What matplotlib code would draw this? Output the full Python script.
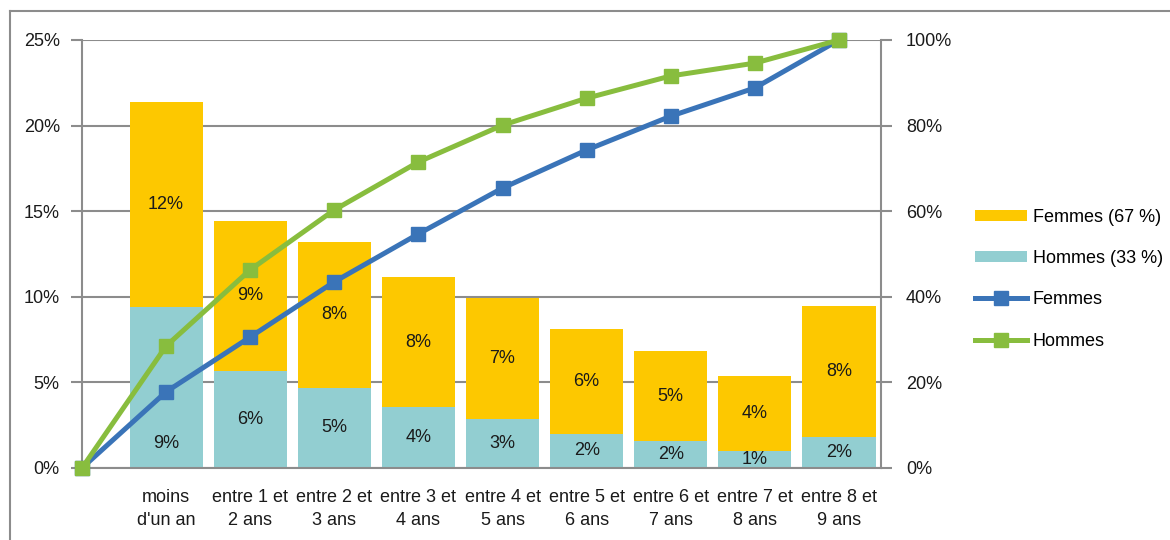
import matplotlib.pyplot as plt
from matplotlib.lines import Line2D

plt.rcParams['font.family'] = ['Liberation Sans Narrow', 'Liberation Sans', 'DejaVu Sans']

# data
categories = ['', 'moins\nd\'un an', 'entre 1 et\n2 ans', 'entre 2 et\n3 ans', 'entre 3 et\n4 ans',
              'entre 4 et\n5 ans', 'entre 5 et\n6 ans', 'entre 6 et\n7 ans', 'entre 7 et\n8 ans',
              'entre 8 et\n9 ans']
hommes = [9.4, 5.65, 4.7, 3.55, 2.85, 2.0, 1.55, 1.0, 1.8]
femmes = [12.0, 8.8, 8.5, 7.6, 7.1, 6.1, 5.3, 4.35, 7.65]
hommes_lbl = ['9%', '6%', '5%', '4%', '3%', '2%', '2%', '1%', '2%']
femmes_lbl = ['12%', '9%', '8%', '8%', '7%', '6%', '5%', '4%', '8%']
cum_femmes = [0, 17.8, 30.6, 43.5, 54.7, 65.4, 74.3, 82.2, 88.8, 100]
cum_hommes = [0, 28.5, 46.3, 60.3, 71.5, 80.1, 86.4, 91.6, 94.6, 100]

c_fem = '#FDC800'
c_hom = '#92CED1'
c_blue = '#3A74B8'
c_green = '#88BD3E'
grey = '#8C8C8C'

fig = plt.figure(figsize=(11.7, 5.4), dpi=100)
ax = fig.add_axes([82 / 1170, 72 / 540, 799 / 1170, 428 / 540])

pos = list(range(1, len(hommes) + 1))
b_hom = ax.bar(pos, hommes, width=0.87, color=c_hom, zorder=2)
b_fem = ax.bar(pos, femmes, width=0.87, bottom=hommes, color=c_fem, zorder=2)

for i, p in enumerate(pos):
    y_h = hommes[i] / 2
    if i == 0:
        y_h = 1.45  # label moved down in the original
    ax.text(p, y_h, hommes_lbl[i], ha='center', va='center', fontsize=13, color='#1a1a1a',
            zorder=3, clip_on=True)
    ax.text(p, hommes[i] + femmes[i] / 2, femmes_lbl[i], ha='center', va='center',
            fontsize=13, color='#1a1a1a', zorder=3)

ax.set_xlim(0, 9.5)
ax.set_ylim(0, 25)
ax.set_yticks([0, 5, 10, 15, 20, 25])
ax.set_yticklabels(['0%', '5%', '10%', '15%', '20%', '25%'])
ax.set_xticks(range(len(categories)))
ax.set_xticklabels(categories, fontsize=13, color='#1a1a1a', linespacing=1.45)
ax.tick_params(axis='x', length=0, pad=15)
ax.tick_params(axis='y', length=8, color=grey, width=1.5, labelsize=13, labelcolor='#1a1a1a', pad=8)
ax.grid(axis='y', color=grey, linewidth=1.5)
ax.set_axisbelow(True)
for s in ['top', 'right']:
    ax.spines[s].set_visible(False)
for s in ['left', 'bottom']:
    ax.spines[s].set_color(grey)
    ax.spines[s].set_linewidth(1.5)

ax2 = ax.twinx()
l_fem, = ax2.plot(range(len(cum_femmes)), cum_femmes, color=c_blue, lw=3.6, marker='s',
                  markersize=10, clip_on=False, zorder=4)
l_hom, = ax2.plot(range(len(cum_hommes)), cum_hommes, color=c_green, lw=3.6, marker='s',
                  markersize=10, clip_on=False, zorder=4)
ax2.set_ylim(0, 100)
ax2.set_yticks([0, 20, 40, 60, 80, 100])
ax2.set_yticklabels(['0%', '20%', '40%', '60%', '80%', '100%'])
ax2.tick_params(axis='y', length=8, color=grey, width=1.5, labelsize=13, labelcolor='#1a1a1a', pad=10)
for s in ['top', 'left', 'bottom']:
    ax2.spines[s].set_visible(False)
ax2.spines['right'].set_color(grey)
ax2.spines['right'].set_linewidth(1.5)

fig.legend([b_fem, b_hom, l_fem, l_hom],
           ['Femmes (67 %)', 'Hommes (33 %)', 'Femmes', 'Hommes'],
           loc='center left', bbox_to_anchor=(966 / 1170, 0.483), frameon=False,
           fontsize=13, handlelength=2.9, handleheight=0.6, labelspacing=1.35,
           handletextpad=0.3, borderpad=0)

# outer frame lines
fig.add_artist(Line2D([10 / 1170, 10 / 1170], [0, 1 - 11 / 540], color=grey, lw=1.5))
fig.add_artist(Line2D([10 / 1170, 1], [1 - 11 / 540, 1 - 11 / 540], color=grey, lw=1.5))

fig.savefig('out.png', dpi=100)
